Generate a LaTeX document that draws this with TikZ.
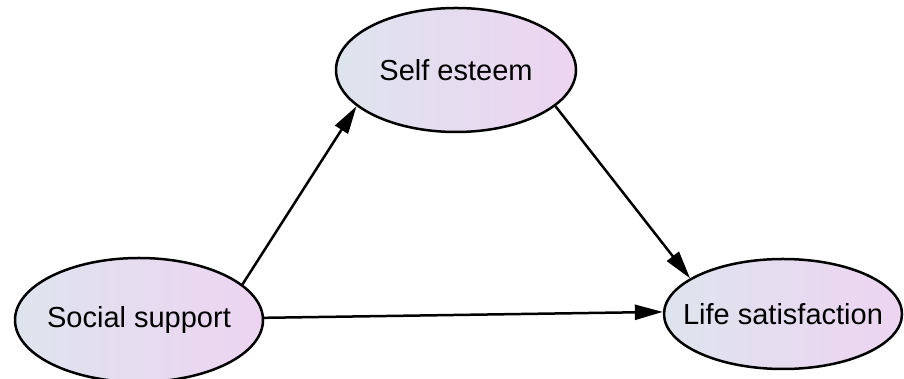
\documentclass[tikz,border=0pt]{standalone}
\usepackage{fontspec}
\setmainfont{Liberation Sans}
\usetikzlibrary{arrows.meta,shapes.geometric}
\definecolor{gleft}{RGB}{222,228,238}
\definecolor{gright}{RGB}{237,212,241}
\newcommand{\vlabel}[1]{\makebox[0pt]{#1}}
\begin{document}
\begin{tikzpicture}[x=1pt,y=1pt,
  var/.style={ellipse,draw=black,line width=2.5pt,inner sep=0pt,
    left color=gleft,right color=gright,
    font=\fontsize{29}{34}\selectfont},
  conn/.style={line width=2.5pt,-{Triangle[length=28pt,width=15pt]}}]
\useasboundingbox (0,0) rectangle (904,379);
\node[var,minimum width=248,minimum height=124] (ss) at (139,59) {\vlabel{Social support}};
\node[var,minimum width=240,minimum height=124] (se) at (456,309) {\vlabel{Self esteem}};
\node[var,minimum width=238,minimum height=110] (ls) at (783,65) {\vlabel{Life satisfaction}};
\draw[conn] (ss.19) -- (se.200);
\draw[conn] (se.340) -- (ls.159);
\draw[conn] (ss.1) -- (ls.179);
\end{tikzpicture}
\end{document}
